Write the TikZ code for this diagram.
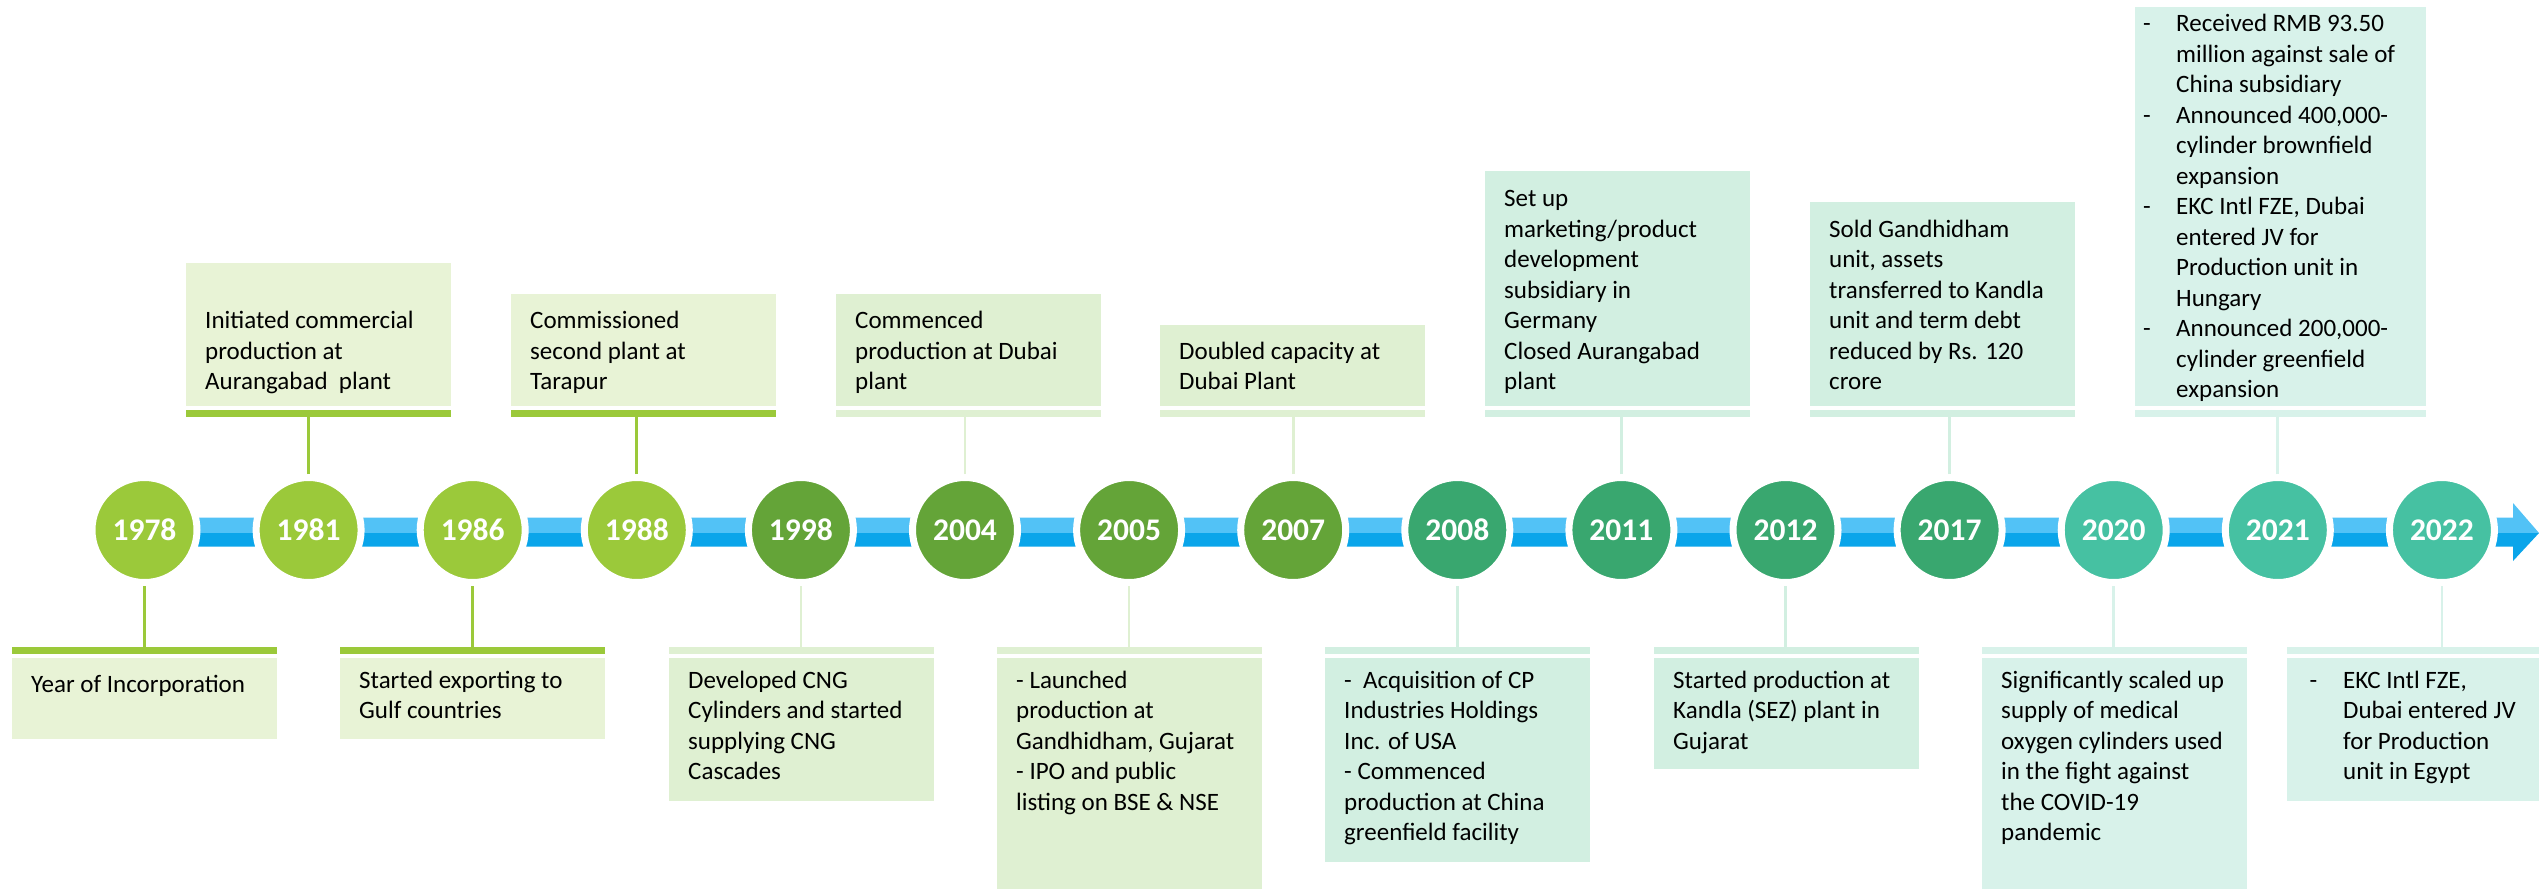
\documentclass[tikz,border=0pt]{standalone}
\usepackage{fontspec}
\setmainfont{Carlito}
\usetikzlibrary{positioning}

\definecolor{grA}{RGB}{155,201,58}
\definecolor{grB}{RGB}{100,164,56}
\definecolor{grC}{RGB}{57,167,111}
\definecolor{grD}{RGB}{70,193,162}
\definecolor{paleA}{RGB}{232,243,214}
\definecolor{paleB}{RGB}{223,240,210}
\definecolor{paleC}{RGB}{210,239,225}
\definecolor{paleD}{RGB}{216,242,234}
\definecolor{bluetop}{RGB}{82,194,246}
\definecolor{bluebot}{RGB}{10,165,234}

\newcommand\dashitem[1]{\makebox[#1][l]{-}}

\tikzset{
  yearnode/.style={circle, minimum size=105pt, inner sep=0pt, draw=white, line width=7pt,
    text=white, font=\fontsize{31.5}{36}\selectfont\bfseries},
  evbox/.style={rectangle, minimum width=265pt, inner sep=0pt, outer sep=0pt},
  evbar/.style={rectangle, minimum width=265pt, minimum height=7pt, inner sep=0pt, outer sep=0pt},
  evtext/.style={align=left, inner sep=0pt, font=\fontsize{25}{30.5}\selectfont,
    execute at begin node=\strut, execute at end node=\strut},
  link/.style={line width=2.7pt},
}

\begin{document}
\begin{tikzpicture}[x=1pt,y=-1pt]
\useasboundingbox (0,0) rectangle (2539,889);

% timeline arrow
\fill[bluetop] (144.5,517.7) rectangle (2513,533) (2513,503) -- (2539,533) -- (2513,533) -- cycle;
\fill[bluebot] (144.5,533) rectangle (2513,546.7) (2513,533) -- (2539,533) -- (2513,561) -- cycle;

% years
\foreach \yr/\x/\col in {1978/144.5/grA, 1981/308.6/grA, 1986/472.7/grA, 1988/636.8/grA,
    1998/800.9/grB, 2004/965.0/grB, 2005/1129.1/grB, 2007/1293.2/grB,
    2008/1457.3/grC, 2011/1621.4/grC, 2012/1785.5/grC, 2017/1949.6/grC,
    2020/2113.7/grD, 2021/2277.8/grD, 2022/2441.9/grD}
  \node[yearnode, fill=\col] (y\yr) at (\x,530) {\yr};

% events above the line
\node[evbox, fill=paleA, minimum height=142.7pt, anchor=south west] (b1981) at (186,405.7) {};
\node[evbar, fill=grA, anchor=south west] (r1981) at (186,416.7) {};
\node[evtext, anchor=south west] (t1981) at (205,399.2) {Initiated commercial\\production at\\Aurangabad\ \ plant};
\draw[link, grA] (y1981) -- (y1981 |- r1981.south);

\node[evbox, fill=paleA, minimum height=111.7pt, anchor=south west] (b1988) at (511,405.7) {};
\node[evbar, fill=grA, anchor=south west] (r1988) at (511,416.7) {};
\node[evtext, anchor=south west] (t1988) at (530,399.2) {Commissioned\\second plant at\\Tarapur};
\draw[link, grA] (y1988) -- (y1988 |- r1988.south);

\node[evbox, fill=paleB, minimum height=111.7pt, anchor=south west] (b2004) at (836,405.7) {};
\node[evbar, fill=paleB, anchor=south west] (r2004) at (836,416.7) {};
\node[evtext, anchor=south west] (t2004) at (855,399.2) {Commenced\\production at Dubai\\plant};
\draw[link, paleB] (y2004) -- (y2004 |- r2004.south);

\node[evbox, fill=paleB, minimum height=80.7pt, anchor=south west] (b2007) at (1160,405.7) {};
\node[evbar, fill=paleB, anchor=south west] (r2007) at (1160,416.7) {};
\node[evtext, anchor=south west] (t2007) at (1179,399.2) {Doubled capacity at\\Dubai Plant};
\draw[link, paleB] (y2007) -- (y2007 |- r2007.south);

\node[evbox, fill=paleC, minimum height=234.7pt, anchor=south west] (b2011) at (1485,405.7) {};
\node[evbar, fill=paleC, anchor=south west] (r2011) at (1485,416.7) {};
\node[evtext, anchor=south west] (t2011) at (1504,399.2) {Set up\\marketing/product\\development\\subsidiary in\\Germany\\Closed Aurangabad\\plant};
\draw[link, paleC] (y2011) -- (y2011 |- r2011.south);

\node[evbox, fill=paleC, minimum height=203.7pt, anchor=south west] (b2017) at (1810,405.7) {};
\node[evbar, fill=paleC, anchor=south west] (r2017) at (1810,416.7) {};
\node[evtext, anchor=south west] (t2017) at (1829,399.2) {Sold Gandhidham\\unit, assets\\transferred to Kandla\\unit and term debt\\reduced by Rs. 120\\crore};
\draw[link, paleC] (y2017) -- (y2017 |- r2017.south);

\node[evbox, fill=paleD, minimum width=291pt, minimum height=399.2pt, anchor=south west] (b2021) at (2135,405.7) {};
\node[evbar, fill=paleD, minimum width=291pt, anchor=south west] (r2021) at (2135,416.7) {};
\node[evtext, anchor=south west] (t2021) at (2143,406.9) {\dashitem{33pt}Received RMB 93.50\\\hspace*{33pt}million against sale of\\\hspace*{33pt}China subsidiary\\
  \dashitem{33pt}Announced 400,000-\\\hspace*{33pt}cylinder brownfield\\\hspace*{33pt}expansion\\
  \dashitem{33pt}EKC Intl FZE, Dubai\\\hspace*{33pt}entered JV for\\\hspace*{33pt}Production unit in\\\hspace*{33pt}Hungary\\
  \dashitem{33pt}Announced 200,000-\\\hspace*{33pt}cylinder greenfield\\\hspace*{33pt}expansion};
\draw[link, paleD] (y2021) -- (y2021 |- r2021.south);

% events below the line
\node[evbar, fill=grA, anchor=north west] (r1978) at (12,647) {};
\node[evbox, fill=paleA, minimum height=80.7pt, anchor=north west] (b1978) at (12,658) {};
\node[evtext, anchor=north west] (t1978) at (31,670.6) {Year of Incorporation};
\draw[link, grA] (y1978) -- (y1978 |- r1978.north);

\node[evbar, fill=grA, anchor=north west] (r1986) at (340,647) {};
\node[evbox, fill=paleA, minimum height=80.7pt, anchor=north west] (b1986) at (340,658) {};
\node[evtext, anchor=north west] (t1986) at (359,670.6) {Started exporting to\\Gulf countries};
\draw[link, grA] (y1986) -- (y1986 |- r1986.north);

\node[evbar, fill=paleB, anchor=north west] (r1998) at (669,647) {};
\node[evbox, fill=paleB, minimum height=142.7pt, anchor=north west] (b1998) at (669,658) {};
\node[evtext, anchor=north west] (t1998) at (688,670.6) {Developed CNG\\Cylinders and started\\supplying CNG\\Cascades};
\draw[link, paleB] (y1998) -- (y1998 |- r1998.north);

\node[evbar, fill=paleB, anchor=north west] (r2005) at (997,647) {};
\node[evbox, fill=paleB, minimum height=231pt, anchor=north west] (b2005) at (997,658) {};
\node[evtext, anchor=north west] (t2005) at (1016,670.6) {- Launched\\production at\\Gandhidham, Gujarat\\- IPO and public\\listing on BSE \& NSE};
\draw[link, paleB] (y2005) -- (y2005 |- r2005.north);

\node[evbar, fill=paleC, anchor=north west] (r2008) at (1325,647) {};
\node[evbox, fill=paleC, minimum height=203.7pt, anchor=north west] (b2008) at (1325,658) {};
\node[evtext, anchor=north west] (t2008) at (1344,670.6) {-\ \ Acquisition of CP\\Industries Holdings\\Inc. of USA\\- Commenced\\production at China\\greenfield facility};
\draw[link, paleC] (y2008) -- (y2008 |- r2008.north);

\node[evbar, fill=paleC, anchor=north west] (r2012) at (1654,647) {};
\node[evbox, fill=paleC, minimum height=111.3pt, anchor=north west] (b2012) at (1654,658) {};
\node[evtext, anchor=north west] (t2012) at (1673,670.6) {Started production at\\Kandla (SEZ) plant in\\Gujarat};
\draw[link, paleC] (y2012) -- (y2012 |- r2012.north);

\node[evbar, fill=paleD, anchor=north west] (r2020) at (1982,647) {};
\node[evbox, fill=paleD, minimum height=231pt, anchor=north west] (b2020) at (1982,658) {};
\node[evtext, anchor=north west] (t2020) at (2001,670.6) {Significantly scaled up\\supply of medical\\oxygen cylinders used\\in the fight against\\the COVID-19\\pandemic};
\draw[link, paleD] (y2020) -- (y2020 |- r2020.north);

\node[evbar, fill=paleD, minimum width=252pt, anchor=north west] (r2022) at (2287,647) {};
\node[evbox, fill=paleD, minimum width=252pt, minimum height=142.7pt, anchor=north west] (b2022) at (2287,658) {};
\node[evtext, anchor=north west] (t2022) at (2309.5,670.6) {\dashitem{33.5pt}EKC Intl FZE,\\\hspace*{33.5pt}Dubai entered JV\\\hspace*{33.5pt}for Production\\\hspace*{33.5pt}unit in Egypt};
\draw[link, paleD] (y2022) -- (y2022 |- r2022.north);
\end{tikzpicture}
\end{document}
